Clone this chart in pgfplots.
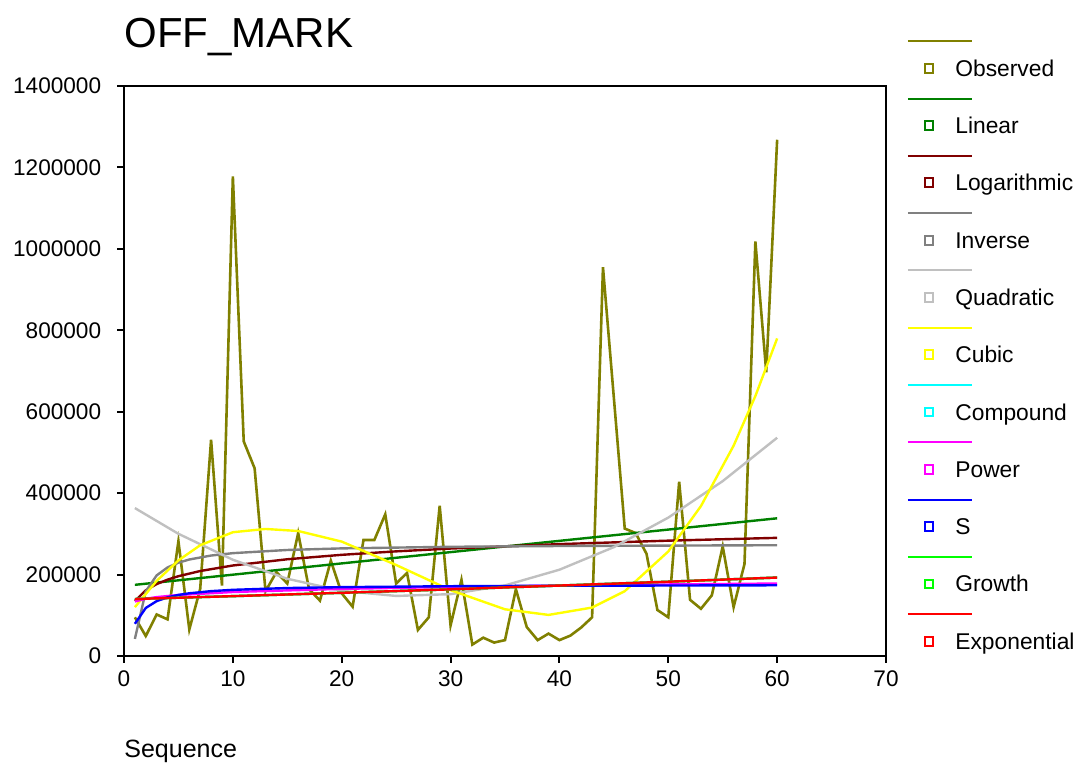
\documentclass[border=0pt]{standalone}
\usepackage{fontspec}
\setmainfont{Liberation Sans}
\usepackage{pgfplots}
\pgfplotsset{compat=1.18}

\definecolor{cObs}{RGB}{128,128,0}
\definecolor{cLin}{RGB}{0,128,0}
\definecolor{cLog}{RGB}{128,0,0}
\definecolor{cInv}{RGB}{128,128,128}
\definecolor{cQua}{RGB}{192,192,192}
\definecolor{cCub}{RGB}{255,255,0}
\definecolor{cCom}{RGB}{0,255,255}
\definecolor{cPow}{RGB}{255,0,255}
\definecolor{cS}{RGB}{0,0,255}
\definecolor{cGro}{RGB}{0,255,0}
\definecolor{cExp}{RGB}{255,0,0}

\begin{document}
\begin{tikzpicture}
% page frame: 1075 x 764 px at 0.5pt per px
\path[use as bounding box] (-62pt,-54pt) rectangle (475.5pt,328pt);
\begin{axis}[
  at={(0,0)}, anchor=south west,
  scale only axis, width=381pt, height=285pt,
  xmin=0, xmax=70, ymin=0, ymax=1400000,
  xtick={0,10,20,30,40,50,60,70},
  ytick={0,200000,400000,600000,800000,1000000,1200000,1400000},
  scaled y ticks=false,
  xtick pos=left, ytick pos=left,
  tick align=outside, major tick length=3.4pt,
  axis line style={line width=1pt},
  every tick/.style={black, line width=1pt},
  tick label style={font=\fontsize{11.3}{13}\selectfont},
  /pgf/number format/assume math mode=true,
  yticklabel style={/pgf/number format/fixed, /pgf/number format/1000 sep={}, xshift=-4.5pt},
  xticklabel style={yshift=-0.3pt},
  title={OFF\_MARK},
  title style={at={(axis description cs:0,1)}, anchor=base west, yshift=13pt,
    inner sep=0pt, font=\fontsize{21}{25}\selectfont},
  xlabel={Sequence},
  xlabel style={at={(axis description cs:0,0)}, anchor=base west, yshift=-51pt,
    inner sep=0pt, font=\fontsize{12.5}{15}\selectfont},
  every axis plot/.append style={line width=1.2pt},
  legend image code/.code={
    \draw[#1, overlay, line width=1pt] (-10.5pt,13.5pt) -- (21.5pt,13.5pt);
    \draw[#1, line width=1pt, fill=white] (-2.2pt,-2.2pt) rectangle (2.2pt,2.2pt);
  },
  legend style={at={(axis description cs:1.0493,1.0505)}, anchor=north west,
    draw=none, fill=none, inner sep=0pt, outer sep=0pt,
    row sep=17.65pt, column sep=10.5pt,
    font=\fontsize{11.4}{13}\selectfont,
    nodes={inner sep=0pt, text height=9.5pt, text depth=1.5pt}},
  legend cell align=left,
]
% Observed
\addplot[cObs, line width=1.3pt] coordinates {
 (1,95000)(2,49000)(3,102000)(4,90000)(5,282000)(6,65000)(7,165000)(8,531000)
 (9,173000)(10,1178000)(11,527000)(12,461000)(13,159000)(14,206000)(15,178000)
 (16,302000)(17,164000)(18,136000)(19,234000)(20,154000)(21,121000)(22,285000)
 (23,285000)(24,348000)(25,178000)(26,204000)(27,64000)(28,95000)(29,369000)
 (30,75000)(31,187000)(32,28000)(33,45000)(34,33000)(35,39000)(36,164000)
 (37,71000)(38,39000)(39,55000)(40,39000)(41,50000)(42,70000)(43,95000)
 (44,955000)(45,634000)(46,313000)(47,302000)(48,251000)(49,113000)(50,95000)
 (51,428000)(52,138000)(53,116000)(54,149000)(55,269000)(56,120000)(57,226000)
 (58,1018000)(59,697000)(60,1268000)};
\addlegendentry{Observed}
% Linear
\addplot[cLin] coordinates {(1,174800)(60,338200)};
\addlegendentry{Linear}
% Logarithmic
\addplot[cLog] coordinates {
 (1,135000)(2,161300)(3,176600)(4,187500)(5,196000)(7,208700)(10,222300)
 (15,237600)(20,248500)(25,257000)(30,263900)(40,274800)(50,283300)(60,290200)};
\addlegendentry{Logarithmic}
% Inverse
\addplot[cInv] coordinates {
 (1,42000)(2,159000)(3,198000)(4,217500)(5,229200)(6,237000)(8,246750)
 (10,252600)(15,260400)(20,264300)(30,268200)(40,270150)(60,272100)};
\addlegendentry{Inverse}
% Quadratic
\addplot[cQua] coordinates {
 (1,363300)(5,300100)(10,236400)(15,189700)(20,160100)(25,147500)(30,151900)
 (35,173400)(40,211900)(45,267400)(50,339900)(55,429500)(60,536100)};
\addlegendentry{Quadratic}
% Cubic
\addplot[cCub] coordinates {
 (1,120000)(3,184500)(5,234800)(7,272000)(10,304000)(13,312000)(16,307000)
 (20,281000)(25,223500)(30,161700)(35,114700)(39,100900)(43,119000)(46,159200)
 (50,256700)(53,368200)(56,516500)(58,638500)(60,780000)};
\addlegendentry{Cubic}
% Compound
\addplot[cCom] coordinates {
 (1,140000)(10,147000)(20,155200)(30,163700)(40,173000)(50,182500)(60,192700)};
\addlegendentry{Compound}
% Power
\addplot[cPow] coordinates {
 (1,134000)(2,140600)(3,144600)(5,149800)(10,157200)(20,164900)(30,169600)
 (40,173000)(50,175700)(60,178000)};
\addlegendentry{Power}
% S
\addplot[cS] coordinates {
 (1,79100)(2,118000)(3,134800)(4,144100)(5,150000)(6,154000)(8,159300)
 (10,162500)(15,166900)(20,169100)(30,171400)(40,172500)(60,173700)};
\addlegendentry{S}
% Growth
\addplot[cGro] coordinates {
 (1,140000)(10,147000)(20,155200)(30,163700)(40,173000)(50,182500)(60,192700)};
\addlegendentry{Growth}
% Exponential
\addplot[cExp] coordinates {
 (1,140000)(10,147000)(20,155200)(30,163700)(40,173000)(50,182500)(60,192700)};
\addlegendentry{Exponential}
\end{axis}
\end{tikzpicture}
\end{document}
